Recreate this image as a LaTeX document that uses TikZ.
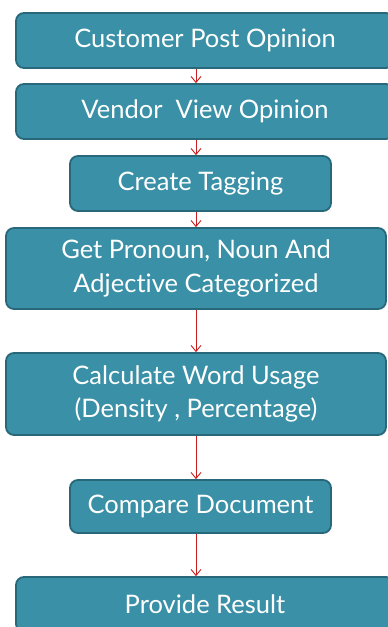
\documentclass[tikz,border=0pt]{standalone}
\usepackage{fontspec}
\setmainfont{Lato}[Ligatures=NoCommon]
\usetikzlibrary{arrows.meta}
\definecolor{boxfill}{RGB}{58,144,166}
\definecolor{boxedge}{RGB}{40,104,122}
\definecolor{flowred}{RGB}{200,30,30}
\begin{document}
\begin{tikzpicture}[x=1pt,y=-1pt,
  stepbox/.style={draw=boxedge,line width=1.8pt,fill=boxfill,rounded corners=8pt,
    text=white,font=\fontsize{25.5}{33.5}\selectfont,align=center,inner sep=0pt},
  flow/.style={draw=flowred,line width=0.9pt,-{Straight Barb[length=6pt,width=10pt]}}]
\useasboundingbox (0,0) rectangle (388,627);
\clip (0,0) rectangle (388,627);
% process steps
\node[stepbox,minimum width=378pt,minimum height=55pt] (s1) at (205,40.5) {Customer Post Opinion};
\node[stepbox,minimum width=378pt,minimum height=55pt] (s2) at (205,111.5) {Vendor\ \ View Opinion};
\node[stepbox,minimum width=261pt,minimum height=55pt] (s3) at (200.5,183.5) {Create Tagging};
\node[stepbox,minimum width=380pt,minimum height=81pt] (s4) at (196,268.5) {Get Pronoun, Noun And\\Adjective Categorized};
\node[stepbox,minimum width=380pt,minimum height=82pt] (s5) at (196,394) {Calculate Word Usage\\(Density , Percentage)};
\node[stepbox,minimum width=261pt,minimum height=53pt] (s6) at (200.5,506.5) {Compare Document};
\node[stepbox,minimum width=378pt,minimum height=55pt] (s7) at (205,604.5) {Provide Result};
% connectors
\draw[flow] (s1.south -| 196,0) -- (s2.north -| 196,0);
\draw[flow] (s2.south -| 196,0) -- (s3.north -| 196,0);
\draw[flow] (s3.south -| 196,0) -- (s4.north -| 196,0);
\draw[flow] (s4.south) -- (s5.north);
\draw[flow] (s5.south) -- (s6.north -| 196,0);
\draw[flow] (s6.south -| 196,0) -- (s7.north -| 196,0);
\end{tikzpicture}
\end{document}
